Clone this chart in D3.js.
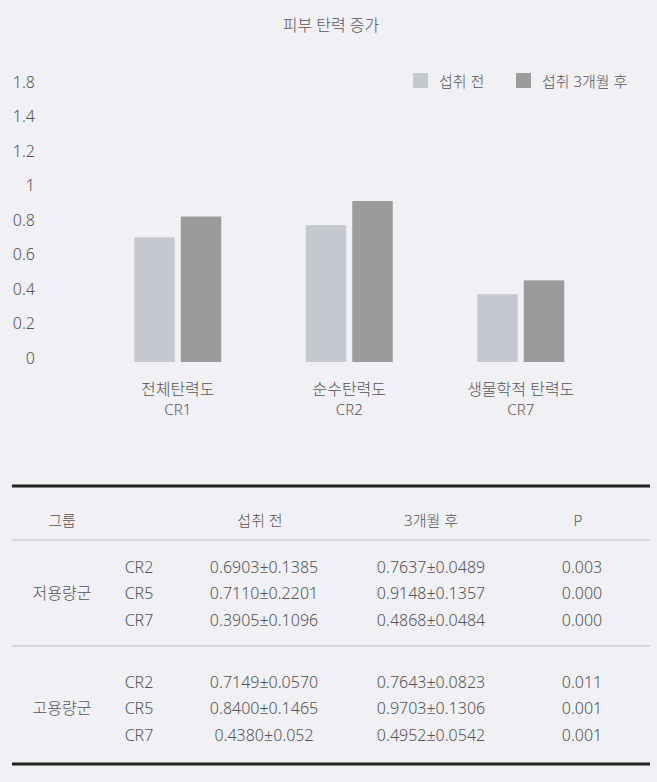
<!DOCTYPE html>
<html>
<head>
<meta charset="utf-8">
<script src="https://cdn.jsdelivr.net/npm/d3@7"></script>
<style>
  body { margin: 0; background: #f0f0f5; }
  svg text { font-family: "Noto Sans", "Noto Sans CJK KR", sans-serif; font-weight: 300; fill: #545454; }
</style>
</head>
<body>
<div id="chart"></div>
<script>
// chart data
var categories = ["전체탄력도", "순수탄력도", "생물학적 탄력도"];
var categoryCodes = ["CR1", "CR2", "CR7"];
var seriesNames = ["섭취 전", "섭취 3개월 후"];
var beforeValues = [0.70, 0.77, 0.37];
var afterValues = [0.82, 0.91, 0.45];
var yTickValues = [0, 0.2, 0.4, 0.6, 0.8, 1, 1.2, 1.4, 1.6];
var yTickLabels = ["0", "0.2", "0.4", "0.6", "0.8", "1", "1.2", "1.4", "1.8"];

// table data
var tableHeaders = ["그룹", "", "섭취 전", "3개월 후", "P"];
var groupNames = ["저용량군", "고용량군"];
var measureCodes = ["CR2", "CR5", "CR7"];
var lowBefore = ["0.6903±0.1385", "0.7110±0.2201", "0.3905±0.1096"];
var lowAfter = ["0.7637±0.0489", "0.9148±0.1357", "0.4868±0.0484"];
var lowP = ["0.003", "0.000", "0.000"];
var highBefore = ["0.7149±0.0570", "0.8400±0.1465", "0.4380±0.052"];
var highAfter = ["0.7643±0.0823", "0.9703±0.1306", "0.4952±0.0542"];
var highP = ["0.011", "0.001", "0.001"];

var svgWidth = 657;
var svgHeight = 782;
var colors = ["#c5c8ce", "#9b9b9b"];

var svg = d3.select("#chart")
  .append("svg")
  .attr("width", svgWidth)
  .attr("height", svgHeight);

// title
svg.append("text")
  .attr("x", 331)
  .attr("y", 31)
  .attr("text-anchor", "middle")
  .attr("font-size", 16)
  .text("피부 탄력 증가");

// scales
var x0 = d3.scaleBand()
  .domain(categories)
  .range([92, 606.5]);

var x1 = d3.scaleBand()
  .domain(seriesNames)
  .range([0, 87])
  .paddingInner(0.13);

var y = d3.scaleLinear()
  .domain([0, 1.6])
  .range([358, 82]);

var baseDrop = 4; // bars sit a little below the "0" label

// y axis, labels only
var leftAxis = d3.axisLeft(y)
  .tickValues(yTickValues)
  .tickFormat(function(d, i) { return yTickLabels[i]; })
  .tickSize(0)
  .tickPadding(0);

var yAxis = svg.append("g")
  .attr("transform", "translate(35, 0)")
  .call(leftAxis);
yAxis.select(".domain").remove();
yAxis.selectAll("text")
  .attr("font-size", 16)
  .attr("font-family", null)
  .attr("fill", null);

// bars
var barData = categories.map(function(c, i) {
  return { cat: c, code: categoryCodes[i], values: [beforeValues[i], afterValues[i]] };
});

var groups = svg.selectAll(".bar-group")
  .data(barData)
  .enter()
  .append("g")
  .attr("class", "bar-group")
  .attr("transform", d => `translate(${x0(d.cat) + x0.bandwidth() / 2 - 43.5}, 0)`);

groups.selectAll("rect")
  .data(d => d.values.map((v, j) => ({ series: seriesNames[j], value: v, idx: j })))
  .enter()
  .append("rect")
  .attr("x", d => x1(d.series))
  .attr("y", d => y(d.value))
  .attr("width", x1.bandwidth())
  .attr("height", d => y(0) + baseDrop - y(d.value))
  .attr("fill", d => colors[d.idx]);

// category labels, two lines
svg.selectAll(".cat-label")
  .data(barData)
  .enter()
  .append("text")
  .attr("class", "cat-label")
  .attr("x", d => x0(d.cat) + x0.bandwidth() / 2)
  .attr("y", 395)
  .attr("text-anchor", "middle")
  .attr("font-size", 16)
  .text(d => d.cat);

svg.selectAll(".cat-code")
  .data(barData)
  .enter()
  .append("text")
  .attr("class", "cat-code")
  .attr("x", d => x0(d.cat) + x0.bandwidth() / 2)
  .attr("y", 415)
  .attr("text-anchor", "middle")
  .attr("font-size", 15)
  .text(d => d.code);

// legend
var legendX = [413, 516];
var legend = svg.selectAll(".legend")
  .data(seriesNames)
  .enter()
  .append("g")
  .attr("class", "legend")
  .attr("transform", (d, i) => `translate(${legendX[i]}, 73)`);

legend.append("rect")
  .attr("width", 15)
  .attr("height", 15)
  .attr("fill", (d, i) => colors[i]);

legend.append("text")
  .attr("x", 26)
  .attr("y", 13.5)
  .attr("font-size", 15)
  .text(d => d);

// table
var tableLeft = 12;
var tableRight = 650;
var colX = [62, 139, 264, 431, 582];
var headerX = [62, 139, 260, 431, 578];

svg.append("line")
  .attr("x1", tableLeft).attr("x2", tableRight)
  .attr("y1", 486).attr("y2", 486)
  .attr("stroke", "#222").attr("stroke-width", 3);

svg.append("line")
  .attr("x1", tableLeft).attr("x2", tableRight)
  .attr("y1", 540).attr("y2", 540)
  .attr("stroke", "#bdbdc2").attr("stroke-width", 1.2);

svg.append("line")
  .attr("x1", tableLeft).attr("x2", tableRight)
  .attr("y1", 646).attr("y2", 646)
  .attr("stroke", "#bdbdc2").attr("stroke-width", 1.2);

svg.append("line")
  .attr("x1", tableLeft).attr("x2", tableRight)
  .attr("y1", 764).attr("y2", 764)
  .attr("stroke", "#222").attr("stroke-width", 3);

svg.selectAll(".th")
  .data(tableHeaders)
  .enter()
  .append("text")
  .attr("class", "th")
  .attr("x", (d, i) => headerX[i])
  .attr("y", 521)
  .attr("dy", "0.35em")
  .attr("text-anchor", "middle")
  .attr("font-size", 15)
  .text(d => d);

var tableGroups = [
  { name: groupNames[0], before: lowBefore, after: lowAfter, p: lowP, rowY: [567, 593.5, 620] },
  { name: groupNames[1], before: highBefore, after: highAfter, p: highP, rowY: [682, 708.5, 735] }
];

tableGroups.forEach(function(g) {
  svg.append("text")
    .attr("x", colX[0])
    .attr("y", g.rowY[1])
    .attr("dy", "0.35em")
    .attr("text-anchor", "middle")
    .attr("font-size", 16)
    .text(g.name);

  measureCodes.forEach(function(code, i) {
    var cells = [code, g.before[i], g.after[i], g.p[i]];
    cells.forEach(function(c, j) {
      svg.append("text")
        .attr("x", colX[j + 1])
        .attr("y", g.rowY[i])
        .attr("dy", "0.35em")
        .attr("text-anchor", "middle")
        .attr("font-size", 16)
        .text(c);
    });
  });
});
</script>
</body>
</html>
